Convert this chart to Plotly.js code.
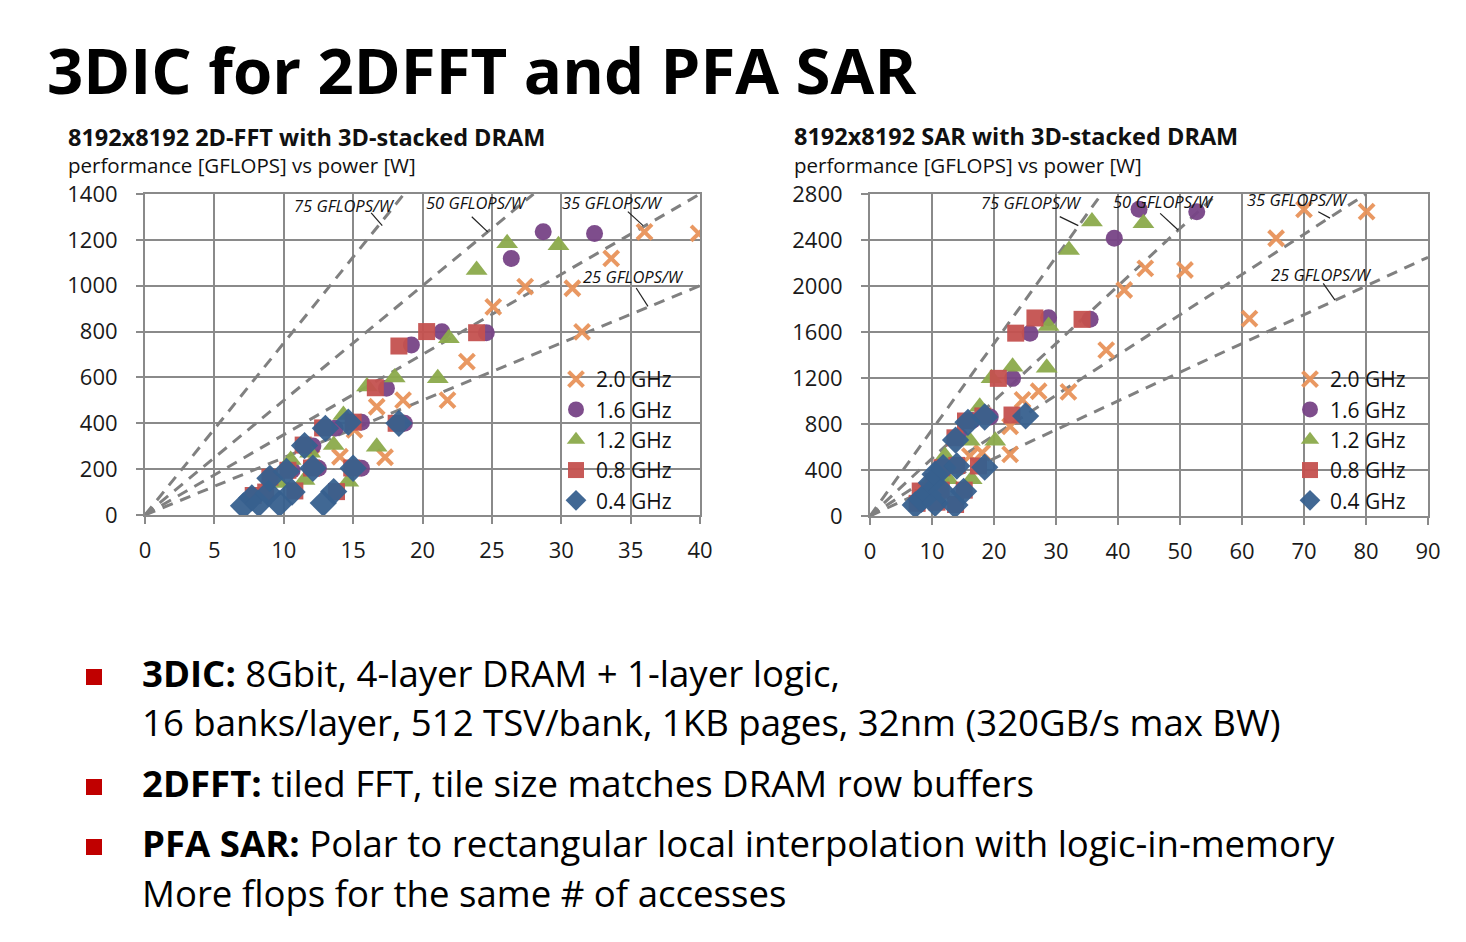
<!DOCTYPE html>
<html>
<head>
<meta charset="utf-8">
<script src="https://cdn.plot.ly/plotly-3.0.1.min.js"></script>
<style>
  html, body { margin: 0; padding: 0; background: #ffffff; }
  #chart { width: 1466px; height: 942px; }
</style>
</head>
<body>
<div id="chart"></div>
<script>
// ---------------- DATA ----------------
const seriesNames = ['2.0 GHz', '1.6 GHz', '1.2 GHz', '0.8 GHz', '0.4 GHz'];

// Left chart: 8192x8192 2D-FFT (power W, performance GFLOPS)
const fft20_x = [12.0, 14.05, 15.1, 16.7, 17.3, 18.6, 21.8, 23.2, 25.1, 27.4, 30.8, 31.5, 33.6, 36.0, 39.9];
const fft20_y = [250, 254, 371, 472, 252, 501, 501, 669, 908, 996, 989, 799, 1119, 1235, 1228];
const fft16_x = [10.6, 12.1, 12.5, 13.7, 15.6, 15.6, 17.4, 18.7, 19.2, 21.4, 24.6, 26.4, 28.7, 32.4];
const fft16_y = [195, 301, 204, 378, 405, 204, 553, 400, 741, 799, 795, 1119, 1235, 1228];
const fft12_x = [9.7, 10.5, 11.5, 11.9, 13.6, 14.3, 14.65, 16.0, 16.7, 18.0, 21.1, 21.9, 23.9, 26.1, 29.8];
const fft12_y = [140, 240, 153, 272, 305, 436, 145, 560, 298, 600, 596, 771, 1068, 1185, 1177];
const fft08_x = [7.8, 8.7, 9.0, 10.3, 10.8, 11.4, 12.0, 12.8, 13.8, 14.9, 15.0, 16.6, 18.1, 18.3, 20.3, 23.9];
const fft08_y = [85, 100, 165, 195, 105, 305, 205, 380, 102, 205, 405, 555, 400, 737, 800, 795];
const fft04_x = [7.1, 7.7, 8.2, 8.9, 9.0, 9.7, 10.2, 10.6, 11.5, 12.1, 12.85, 13.0, 13.6, 14.65, 15.0, 18.3];
const fft04_y = [40, 75, 50, 95, 160, 50, 190, 100, 303, 204, 52, 378, 102, 405, 204, 400];

// Right chart: 8192x8192 SAR
const sar20_x = [16.1, 18.1, 22.6, 22.6, 24.6, 27.2, 32.0, 38.1, 41.0, 44.4, 50.8, 61.2, 65.5, 70.0, 80.1];
const sar20_y = [520, 550, 536, 780, 1010, 1085, 1080, 1443, 1965, 2154, 2139, 1716, 2415, 2667, 2646];
const sar16_x = [12.3, 14.5, 16.5, 19.4, 23.0, 25.8, 28.8, 35.5, 39.4, 43.4, 52.7];
const sar16_y = [440, 690, 830, 860, 1197, 1590, 1724, 1710, 2415, 2667, 2646];
const sar12_x = [9.0, 12.1, 12.6, 16.4, 16.1, 20.2, 17.7, 19.6, 23.0, 28.5, 28.8, 32.1, 35.8, 44.1];
const sar12_y = [240, 522, 319, 319, 655, 655, 950, 1197, 1298, 1290, 1652, 2313, 2560, 2545];
const sar08_x = [7.6, 8.1, 8.6, 9.6, 10.2, 10.8, 11.5, 11.6, 13.7, 13.8, 14.0, 15.2, 15.4, 17.5, 18.2, 22.9, 20.7, 23.5, 26.6, 34.2];
const sar08_y = [110, 217, 160, 200, 300, 120, 225, 420, 680, 100, 440, 225, 826, 435, 870, 878, 1197, 1590, 1722, 1710];
const sar04_x = [7.3, 8.3, 9.4, 9.9, 10.5, 10.5, 11.6, 11.8, 13.7, 13.8, 14.0, 15.1, 15.8, 18.5, 18.5, 25.1];
const sar04_y = [96, 145, 188, 290, 110, 363, 215, 420, 96, 660, 435, 215, 815, 425, 861, 870];

// Efficiency reference lines (GFLOPS/W)
const effLevels = [75, 50, 35, 25];
const effLabels = ['75 GFLOPS/W', '50 GFLOPS/W', '35 GFLOPS/W', '25 GFLOPS/W'];

// Axis ranges / ticks
const fftXRange = [0, 40], fftYRange = [0, 1400];
const sarXRange = [0, 90], sarYRange = [0, 2800];

// Texts
const mainTitle = '3DIC for 2DFFT and PFA SAR';
const fftTitle = '8192x8192 2D-FFT with 3D-stacked DRAM';
const sarTitle = '8192x8192 SAR with 3D-stacked DRAM';
const subTitle = 'performance [GFLOPS] vs power [W]';
const bulletLines = [
  ['<b>3DIC:</b> 8Gbit, 4-layer DRAM + 1-layer logic,', true],
  ['16 banks/layer, 512 TSV/bank, 1KB pages, 32nm (320GB/s max BW)', false],
  ['<b>2DFFT:</b> tiled FFT, tile size matches DRAM row buffers', true],
  ['<b>PFA SAR:</b> Polar to rectangular local interpolation with logic-in-memory', true],
  ['More flops for the same # of accesses', false]
];

// ---------------- STYLE ----------------
const W = 1466, H = 942;
const px = v => v / W;
const py = v => 1 - v / H;
const FONT = 'Open Sans, Noto Sans, sans-serif';
const GRID = '#8a8a8a';

const markerStyles = [
  {symbol: 'x-thin-open', size: 15, color: '#E8925A', line: {width: 4, color: '#E8925A'}},
  {symbol: 'circle', size: 17, color: '#774386', line: {width: 0}},
  {symbol: 'triangle-up', size: 19, color: '#8BAA4B', line: {width: 0}},
  {symbol: 'square', size: 17, color: '#C4514F', line: {width: 0}},
  {symbol: 'diamond', size: 21, color: '#37608E', line: {width: 0}}
];

const fftSeries = [[fft20_x, fft20_y], [fft16_x, fft16_y], [fft12_x, fft12_y], [fft08_x, fft08_y], [fft04_x, fft04_y]];
const sarSeries = [[sar20_x, sar20_y], [sar16_x, sar16_y], [sar12_x, sar12_y], [sar08_x, sar08_y], [sar04_x, sar04_y]];

const traces = [];
function effLine(eff, xr, yr, xa, ya) {
  const x1 = Math.min(xr[1], yr[1] / eff);
  return {
    x: [0, x1], y: [0, eff * x1], xaxis: xa, yaxis: ya, mode: 'lines',
    line: {color: '#808080', width: 3, dash: '11px,8px'},
    showlegend: false, hoverinfo: 'skip'
  };
}
effLevels.forEach(e => traces.push(effLine(e, fftXRange, fftYRange, 'x', 'y')));
effLevels.forEach(e => traces.push(effLine(e, sarXRange, sarYRange, 'x2', 'y2')));

fftSeries.forEach((s, i) => {
  const m = markerStyles[i];
  traces.push({
    x: s[0], y: s[1], xaxis: 'x', yaxis: 'y', mode: 'markers', name: seriesNames[i],
    marker: {symbol: m.symbol, size: m.size, color: m.color, line: m.line, opacity: 0.95},
    legend: 'legend'
  });
});
sarSeries.forEach((s, i) => {
  const m = markerStyles[i];
  traces.push({
    x: s[0], y: s[1], xaxis: 'x2', yaxis: 'y2', mode: 'markers', name: seriesNames[i],
    marker: {symbol: m.symbol, size: m.size, color: m.color, line: m.line, opacity: 0.95},
    legend: 'legend2'
  });
});

function axis(domain, range, dtick, anchor, standoff) {
  return {
    domain: domain, range: range, dtick: dtick, tick0: 0, anchor: anchor,
    showgrid: true, gridcolor: GRID, gridwidth: 2,
    zeroline: false, showline: true, linecolor: GRID, linewidth: 2, mirror: true,
    ticks: 'outside', ticklen: 7, tickwidth: 2, tickcolor: GRID,
    ticklabelstandoff: standoff,
    tickfont: {family: FONT, size: 22, color: '#1a1a1a'},
    fixedrange: true
  };
}

// Label annotations & leader lines (data coordinates)
const fftLabelPos = [[14.4, 1352], [23.9, 1361], [33.66, 1365], [35.2, 1038]];
const fftLeaders = [[[16.3, 1318], [17.1, 1262]], [[23.55, 1301], [24.7, 1235]], [[34.8, 1323], [35.9, 1262]], [[35.4, 990], [36.25, 910]]];
const sarLabelPos = [[26.1, 2722], [47.3, 2739], [68.9, 2748], [72.9, 2096]];
const sarLeaders = [[[30.6, 2603], [33.6, 2525]], [[46.8, 2632], [49.7, 2487]], [[72.3, 2646], [74.2, 2590]], [[73.1, 2023], [75, 1878]]];

const annotations = [];
const shapes = [];
effLabels.forEach((t, i) => {
  annotations.push({xref: 'x', yref: 'y', x: fftLabelPos[i][0], y: fftLabelPos[i][1], text: '<i>' + t + '</i>',
    showarrow: false, font: {family: FONT, size: 16.5, color: '#111'}, xanchor: 'center', yanchor: 'middle'});
  annotations.push({xref: 'x2', yref: 'y2', x: sarLabelPos[i][0], y: sarLabelPos[i][1], text: '<i>' + t + '</i>',
    showarrow: false, font: {family: FONT, size: 16.5, color: '#111'}, xanchor: 'center', yanchor: 'middle'});
  shapes.push({type: 'line', xref: 'x', yref: 'y', x0: fftLeaders[i][0][0], y0: fftLeaders[i][0][1],
    x1: fftLeaders[i][1][0], y1: fftLeaders[i][1][1], line: {color: '#222', width: 1.2}});
  shapes.push({type: 'line', xref: 'x2', yref: 'y2', x0: sarLeaders[i][0][0], y0: sarLeaders[i][0][1],
    x1: sarLeaders[i][1][0], y1: sarLeaders[i][1][1], line: {color: '#222', width: 1.2}});
});

// Titles
annotations.push({xref: 'paper', yref: 'paper', x: px(45), y: py(70), text: '<b>' + mainTitle + '</b>',
  showarrow: false, xanchor: 'left', yanchor: 'middle', font: {family: FONT, size: 63.5, color: '#000'}});
annotations.push({xref: 'paper', yref: 'paper', x: px(66), y: py(137), text: '<b>' + fftTitle + '</b>',
  showarrow: false, xanchor: 'left', yanchor: 'middle', font: {family: FONT, size: 23.5, color: '#111'}});
annotations.push({xref: 'paper', yref: 'paper', x: px(66), y: py(165), text: subTitle,
  showarrow: false, xanchor: 'left', yanchor: 'middle', font: {family: FONT, size: 20.5, color: '#111'}});
annotations.push({xref: 'paper', yref: 'paper', x: px(792), y: py(136), text: '<b>' + sarTitle + '</b>',
  showarrow: false, xanchor: 'left', yanchor: 'middle', font: {family: FONT, size: 23.5, color: '#111'}});
annotations.push({xref: 'paper', yref: 'paper', x: px(792), y: py(165), text: subTitle,
  showarrow: false, xanchor: 'left', yanchor: 'middle', font: {family: FONT, size: 20.5, color: '#111'}});

// Bullets
const bulletY = [673, 722, 783, 843, 893];
bulletLines.forEach((b, i) => {
  annotations.push({xref: 'paper', yref: 'paper', x: px(140), y: py(bulletY[i]), text: b[0],
    showarrow: false, xanchor: 'left', yanchor: 'middle', font: {family: FONT, size: 36.6, color: '#000'}});
  if (b[1]) {
    shapes.push({type: 'rect', xref: 'paper', yref: 'paper', x0: px(86), x1: px(102),
      y0: py(bulletY[i] + 12), y1: py(bulletY[i] - 4), fillcolor: '#C00000', line: {width: 0}});
  }
});

const legendBase = {
  bgcolor: 'rgba(0,0,0,0)', borderwidth: 0, xanchor: 'left', yanchor: 'top',
  font: {family: FONT, size: 21, color: '#111'}, itemsizing: 'trace', tracegroupgap: 0
};

const layout = {
  width: W, height: H,
  margin: {l: 0, r: 0, t: 0, b: 0},
  paper_bgcolor: '#ffffff', plot_bgcolor: '#ffffff',
  showlegend: true,
  xaxis: axis([px(145), px(700)], fftXRange, 5, 'y', 8),
  yaxis: axis([py(515), py(194)], fftYRange, 200, 'x', 14),
  xaxis2: axis([px(870), px(1428)], sarXRange, 10, 'y2', 8),
  yaxis2: axis([py(516), py(194)], sarYRange, 400, 'x2', 14),
  legend: Object.assign({}, legendBase, {x: px(556), y: py(359)}),
  legend2: Object.assign({}, legendBase, {x: px(1290), y: py(359)}),
  annotations: annotations,
  shapes: shapes
};

Plotly.newPlot('chart', traces, layout, {displayModeBar: false, staticPlot: true});
</script>
</body>
</html>
